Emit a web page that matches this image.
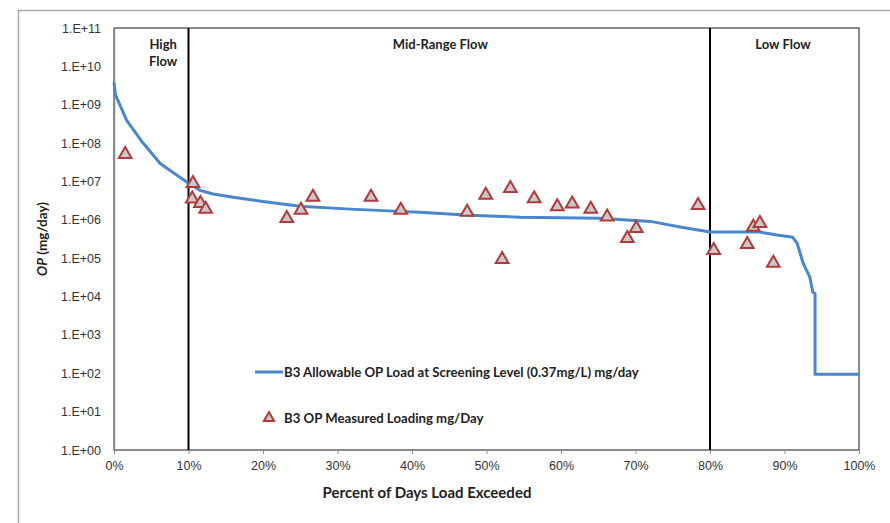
<!DOCTYPE html>
<html>
<head>
<meta charset="utf-8">
<script src="https://cdn.jsdelivr.net/npm/d3@7"></script>
<style>
  body { margin: 0; background: #fff; }
  svg { font-family: Lato, "Open Sans", sans-serif; }
</style>
</head>
<body>
<div id="chart"></div>
<script>
// Chart size
const width = 890;
const height = 523;
const margin = { top: 28, right: 31, bottom: 73, left: 114 };

// Allowable load curve (fraction of days exceeded, mg/day)
const curveX = [0, 0.002, 0.017, 0.039, 0.062, 0.098, 0.115, 0.133, 0.16, 0.205, 0.25, 0.317, 0.384,
  0.41, 0.478, 0.545, 0.652, 0.72, 0.76, 0.80, 0.867, 0.89, 0.911, 0.917, 0.925, 0.934, 0.938,
  0.941, 0.941, 1.0];
const curveY = [3.8e9, 1.8e9, 3.9e8, 1.0e8, 2.95e7, 9.5e6, 5.9e6, 4.7e6, 3.9e6, 2.9e6, 2.25e6, 1.9e6,
  1.66e6, 1.58e6, 1.32e6, 1.17e6, 1.1e6, 9.1e5, 6.5e5, 4.8e5, 4.8e5, 4.0e5, 3.5e5, 2.45e5, 7.4e4,
  3.2e4, 1.3e4, 1.2e4, 95, 95];

// Measured loading (fraction of days exceeded, mg/day)
const measX = [0.015, 0.106, 0.105, 0.116, 0.123, 0.232, 0.251, 0.267, 0.345, 0.385, 0.474, 0.499,
  0.532, 0.521, 0.564, 0.595, 0.615, 0.64, 0.662, 0.689, 0.701, 0.784, 0.805, 0.858, 0.867, 0.85, 0.885];
const measY = [5.1e7, 8.9e6, 3.5e6, 2.7e6, 1.9e6, 1.1e6, 1.8e6, 3.9e6, 3.9e6, 1.8e6, 1.6e6, 4.4e6,
  6.6e6, 9.3e4, 3.6e6, 2.2e6, 2.6e6, 1.9e6, 1.2e6, 3.3e5, 6.0e5, 2.4e6, 1.6e5, 6.5e5, 8.1e5, 2.3e5, 7.4e4];

// Axis ticks
const xTicks = [0, 0.1, 0.2, 0.3, 0.4, 0.5, 0.6, 0.7, 0.8, 0.9, 1.0];
const yTicks = [1, 1e1, 1e2, 1e3, 1e4, 1e5, 1e6, 1e7, 1e8, 1e9, 1e10, 1e11];

// Flow regime boundaries and labels
const zoneBreaks = [0.1, 0.8];
const zoneLabels = [
  { lines: ["High", "Flow"], x: 0.066 },
  { lines: ["Mid-Range Flow"], x: 0.438 },
  { lines: ["Low Flow"], x: 0.898 }
];

const seriesNames = [
  "B3 Allowable OP Load at Screening Level (0.37mg/L) mg/day",
  "B3 OP Measured Loading mg/Day"
];

const lineColor = "#4a86cc";
const markStroke = "#b23a3a";
const markFill = "#c9c9c9";

const svg = d3
  .select("#chart")
  .append("svg")
  .attr("width", width)
  .attr("height", height);

// Outer chart frame
svg
  .append("path")
  .attr("d", `M18.5,${height} V10.5 H${width}`)
  .attr("fill", "none")
  .attr("stroke", "#a6a6a6")
  .attr("stroke-width", 1.5);

const xScale = d3
  .scaleLinear()
  .domain([0, 1])
  .range([margin.left, width - margin.right]);

const yScale = d3
  .scaleLog()
  .domain([1, 1e11])
  .range([height - margin.bottom, margin.top]);

// Plot border (top/right)
svg
  .append("rect")
  .attr("x", xScale(0))
  .attr("y", yScale(1e11))
  .attr("width", xScale(1) - xScale(0))
  .attr("height", yScale(1) - yScale(1e11))
  .attr("fill", "none")
  .attr("stroke", "#404040")
  .attr("stroke-width", 1.2);

// X axis
const xAxis = d3
  .axisBottom(xScale)
  .tickValues(xTicks)
  .tickFormat(d3.format(".0%"))
  .tickSize(4)
  .tickPadding(7);

const gx = svg
  .append("g")
  .attr("transform", `translate(0, ${yScale(1)})`)
  .call(xAxis);
gx.select(".domain").attr("stroke", "#8c8c8c").attr("stroke-width", 1.2);
gx.selectAll(".tick line").attr("stroke", "#8c8c8c");
gx.selectAll("text").attr("font-size", 12.5).attr("fill", "#333");

// Y axis
const yAxis = d3
  .axisLeft(yScale)
  .tickValues(yTicks)
  .tickFormat((d) => "1.E+" + String(Math.round(Math.log10(d))).padStart(2, "0"))
  .tickSize(0)
  .tickPadding(13);

const gy = svg
  .append("g")
  .attr("transform", `translate(${xScale(0)}, 0)`)
  .call(yAxis);
gy.select(".domain").attr("stroke", "#8c8c8c").attr("stroke-width", 1.5);
gy.selectAll("text").attr("font-size", 12.5).attr("fill", "#333");

// Zone dividers
svg
  .selectAll(".zone-line")
  .data(zoneBreaks)
  .enter()
  .append("line")
  .attr("class", "zone-line")
  .attr("x1", (d) => xScale(d))
  .attr("x2", (d) => xScale(d))
  .attr("y1", yScale(1e11))
  .attr("y2", yScale(1))
  .attr("stroke", "#000")
  .attr("stroke-width", 2);

// Zone labels
const zl = svg
  .selectAll(".zone-label")
  .data(zoneLabels)
  .enter()
  .append("text")
  .attr("class", "zone-label")
  .attr("x", (d) => xScale(d.x))
  .attr("y", 49)
  .attr("text-anchor", "middle")
  .attr("font-size", 13)
  .attr("font-weight", "bold")
  .attr("fill", "#222");
zl.selectAll("tspan")
  .data((d) => d.lines.map((t) => ({ t, x: d.x })))
  .enter()
  .append("tspan")
  .attr("x", (d) => xScale(d.x))
  .attr("dy", (d, i) => (i === 0 ? 0 : 17))
  .text((d) => d.t);

// Allowable load line
const line = d3
  .line()
  .x((d) => xScale(d[0]))
  .y((d) => yScale(d[1]));

svg
  .append("path")
  .datum(curveX.map((x, i) => [x, curveY[i]]))
  .attr("d", line)
  .attr("fill", "none")
  .attr("stroke", lineColor)
  .attr("stroke-width", 3)
  .attr("stroke-linejoin", "round");

// Measured markers
const tri = d3.symbol().type(d3.symbolTriangle).size(70);
svg
  .selectAll(".meas")
  .data(measX.map((x, i) => [x, measY[i]]))
  .enter()
  .append("path")
  .attr("class", "meas")
  .attr("d", tri)
  .attr("transform", (d) => `translate(${xScale(d[0])}, ${yScale(d[1])})`)
  .attr("fill", markFill)
  .attr("stroke", markStroke)
  .attr("stroke-width", 2);

// Legend
const legend = svg.append("g").attr("transform", "translate(255, 372)");
legend
  .append("line")
  .attr("x1", 0)
  .attr("x2", 28)
  .attr("y1", 0)
  .attr("y2", 0)
  .attr("stroke", lineColor)
  .attr("stroke-width", 3);
legend
  .append("path")
  .attr("d", d3.symbol().type(d3.symbolTriangle).size(45))
  .attr("transform", "translate(14, 46)")
  .attr("fill", markFill)
  .attr("stroke", markStroke)
  .attr("stroke-width", 2);
legend
  .selectAll(".legend-text")
  .data(seriesNames)
  .enter()
  .append("text")
  .attr("class", "legend-text")
  .attr("x", 29)
  .attr("y", (d, i) => i * 46)
  .attr("dy", "0.35em")
  .attr("font-size", 13.2)
  .attr("font-weight", "bold")
  .attr("fill", "#222")
  .text((d) => d);

// Axis titles
svg
  .append("text")
  .attr("x", 427)
  .attr("y", 498)
  .attr("text-anchor", "middle")
  .attr("font-size", 15)
  .attr("font-weight", "bold")
  .attr("fill", "#222")
  .text("Percent of Days Load Exceeded");

const yTitle = svg
  .append("text")
  .attr("transform", `translate(47, ${(yScale(1) + yScale(1e11)) / 2}) rotate(-90)`)
  .attr("text-anchor", "middle")
  .attr("font-size", 13.5)
  .attr("font-weight", "bold")
  .attr("fill", "#222");
yTitle.append("tspan").attr("font-style", "italic").text("OP");
yTitle.append("tspan").text(" (mg/day)");
</script>
</body>
</html>
